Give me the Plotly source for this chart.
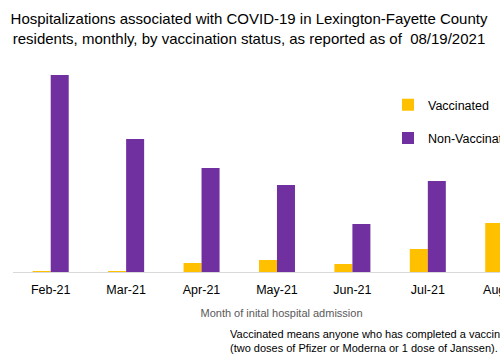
import plotly.graph_objects as go

months = ["Feb-21", "Mar-21", "Apr-21", "May-21", "Jun-21", "Jul-21", "Aug-21"]
vaccinated = [1, 1, 9, 12, 8, 23, 49]
non_vaccinated = [197, 133, 104, 87, 48, 91, 120]

title_text = ("Hospitalizations associated with COVID-19 in Lexington-Fayette County<br>"
              "residents, monthly, by vaccination status, as reported as of  08/19/2021")
x_title = "Month of inital hospital admission"
note_text = ("Vaccinated means anyone who has completed a vaccination series<br>"
             "(two doses of Pfizer or Moderna or 1 dose of Janssen).")

FONT = "Liberation Sans"
W, H = 560, 360
ML, MR, MT, MB = 13, 10, 60, 88
PW = W - ML - MR

fig = go.Figure()
fig.add_trace(go.Bar(x=months, y=vaccinated, name="Vaccinated",
                     marker=dict(color="#FFC000", line=dict(width=0)),
                     legendgroup="a"))
fig.add_trace(go.Bar(x=months, y=non_vaccinated, name="Non-Vaccinated",
                     marker=dict(color="#7030A0", line=dict(width=0)),
                     legendgroup="b"))

fig.update_layout(
    width=W, height=H,
    margin=dict(l=ML, r=MR, t=MT, b=MB),
    paper_bgcolor="white", plot_bgcolor="white",
    barmode="group", bargap=0.5225, bargroupgap=0,
    font=dict(family=FONT, color="#000000"),
    title=dict(text=title_text, x=249 / W, xanchor="center", y=0.933, yanchor="top",
               font=dict(family=FONT, size=15, color="#000000")),
    showlegend=True,
    legend=dict(x=(388 - ML) / PW, y=0.858, xanchor="left", yanchor="top",
                font=dict(family=FONT, size=12.5, color="#000000"),
                tracegroupgap=14, traceorder="grouped",
                bgcolor="rgba(0,0,0,0)", borderwidth=0),
    xaxis=dict(type="category", range=[-0.5, 6.62], showgrid=False,
               showline=True, linecolor="#D9D9D9", linewidth=1,
               ticks="", ticklabelstandoff=6,
               tickfont=dict(family=FONT, size=12.5, color="#000000"),
               title=dict(text=x_title, standoff=13,
                          font=dict(family=FONT, size=11, color="#595959")),
               fixedrange=True),
    yaxis=dict(visible=False, range=[0, 212], showgrid=False, fixedrange=True),
    annotations=[
        dict(text=note_text, xref="paper", yref="paper", x=(228 - ML) / PW,
             y=(272 - 326) / (H - MT - MB),
             xanchor="left", yanchor="top", align="left", showarrow=False,
             font=dict(family=FONT, size=11, color="#000000")),
    ],
)

fig.write_html(
    "out.html",
    config={"displayModeBar": False},
    post_script=("document.documentElement.style.overflow='hidden';"
                 "document.body.style.margin='0';"
                 "document.body.style.overflow='hidden';"),
)
